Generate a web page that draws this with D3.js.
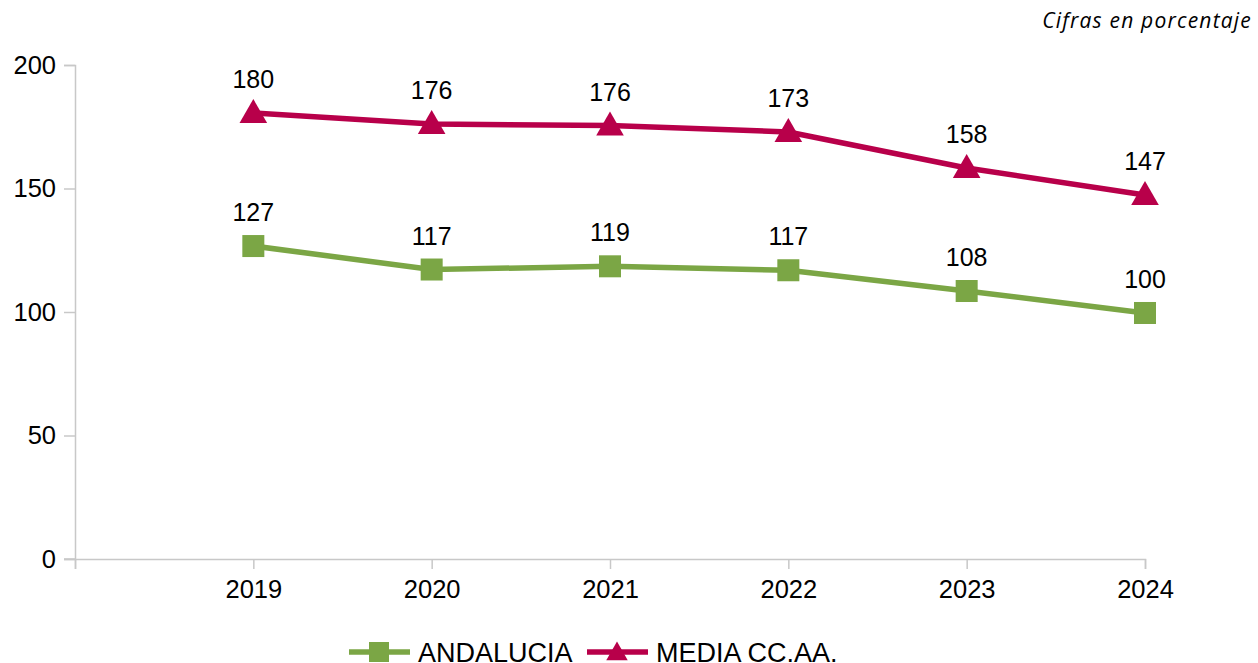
<!DOCTYPE html>
<html>
<head>
<meta charset="utf-8">
<script src="https://cdn.jsdelivr.net/npm/d3@7"></script>
<style>
  body { margin: 0; background: #fff; }
  text { font-family: "Liberation Sans", Arial, sans-serif; }
</style>
</head>
<body>
<div id="graph"></div>
<script>
// datos
const years = [2019, 2020, 2021, 2022, 2023, 2024];
const andalucia = [126.7, 117.2, 118.5, 116.9, 108.5, 99.6];
const andaluciaLabels = ["127", "117", "119", "117", "108", "100"];
const media = [180.6, 176.1, 175.5, 172.9, 158.3, 147.4];
const mediaLabels = ["180", "176", "176", "173", "158", "147"];
const yTicks = [0, 50, 100, 150, 200];

const W = 1258, H = 663;
const green = "#7ba645", red = "#b8004a";

const svg = d3.select("#graph").append("svg")
    .attr("width", W)
    .attr("height", H);

// eje x: hay un hueco de una categoría a la izquierda
const x = d3.scaleLinear()
    .domain([2018, 2024])
    .range([75, 1145]);

const y = d3.scaleLinear()
    .domain([0, 200])
    .range([559, 65]);

// eje Y
const yAxis = svg.append("g")
    .attr("transform", "translate(75,0)")
    .call(d3.axisLeft(y).tickValues(yTicks).tickSize(11).tickPadding(8));
yAxis.selectAll("text").style("font-size", "25.5px").attr("fill", "#000")
    .style("font-family", "'Liberation Sans', Arial, sans-serif");

// eje X
const xAxis = svg.append("g")
    .attr("transform", "translate(0,559)")
    .call(d3.axisBottom(x).tickValues([2018].concat(years))
        .tickFormat(d => d === 2018 ? "" : d).tickSize(10).tickPadding(11));
xAxis.selectAll("text").style("font-size", "25.5px").attr("fill", "#000")
    .style("font-family", "'Liberation Sans', Arial, sans-serif");

svg.selectAll(".domain").attr("stroke", "#c8c8c8").attr("stroke-width", 1.5);
svg.selectAll(".tick line").attr("stroke", "#c8c8c8").attr("stroke-width", 1.5);
// prolongar el eje x hacia la izquierda como en el original
svg.append("line")
    .attr("x1", 64).attr("x2", 75)
    .attr("y1", y(0)).attr("y2", y(0))
    .attr("stroke", "#c8c8c8").attr("stroke-width", 1.5);

const line = d3.line()
    .x((d, i) => x(years[i]))
    .y(d => y(d));

const triangle = d3.symbol().type(d3.symbolTriangle).size(330);

function drawSeries(values, labels, color, shape) {
    const g = svg.append("g");
    g.append("path")
        .datum(values)
        .attr("d", line)
        .attr("fill", "none")
        .attr("stroke", color)
        .attr("stroke-width", 5.5)
        .attr("stroke-linejoin", "round");

    if (shape === "square") {
        g.selectAll("rect")
            .data(values)
            .join("rect")
            .attr("x", (d, i) => x(years[i]) - 11)
            .attr("y", d => y(d) - 11)
            .attr("width", 22)
            .attr("height", 22)
            .attr("fill", color);
    } else {
        g.selectAll(".tri")
            .data(values)
            .join("path")
            .attr("class", "tri")
            .attr("d", triangle)
            .attr("transform", (d, i) => `translate(${x(years[i])},${y(d) + 2})`)
            .attr("fill", color);
    }

    g.selectAll("text")
        .data(values)
        .join("text")
        .attr("x", (d, i) => x(years[i]))
        .attr("y", d => y(d) - 25)
        .attr("text-anchor", "middle")
        .style("font-size", "25px")
        .attr("fill", "#000")
        .text((d, i) => labels[i]);
}

drawSeries(andalucia, andaluciaLabels, green, "square");
drawSeries(media, mediaLabels, red, "triangle");

// nota
svg.append("text")
    .attr("x", 1252)
    .attr("y", 28)
    .attr("text-anchor", "end")
    .style("font-family", "'Open Sans', 'Noto Sans', sans-serif")
    .style("font-style", "italic")
    .style("font-size", "21px")
    .style("letter-spacing", "1.2px")
    .attr("fill", "#000")
    .text("Cifras en porcentaje");

// leyenda
const legend = svg.append("g").attr("transform", "translate(0,652)");
const items = [
    { name: "ANDALUCIA", color: green, shape: "square", x: 349 },
    { name: "MEDIA CC.AA.", color: red, shape: "triangle", x: 587 }
];
items.forEach(it => {
    legend.append("line")
        .attr("x1", it.x).attr("x2", it.x + 61)
        .attr("y1", 0).attr("y2", 0)
        .attr("stroke", it.color).attr("stroke-width", 5.5);
    if (it.shape === "square") {
        legend.append("rect")
            .attr("x", it.x + 30 - 10).attr("y", -10)
            .attr("width", 20).attr("height", 20)
            .attr("fill", it.color);
    } else {
        legend.append("path")
            .attr("d", d3.symbol().type(d3.symbolTriangle).size(200)())
            .attr("transform", `translate(${it.x + 30},2)`)
            .attr("fill", it.color);
    }
    legend.append("text")
        .attr("x", it.x + 69)
        .attr("y", 10)
        .style("font-size", "27px")
        .attr("fill", "#000")
        .text(it.name);
});
</script>
</body>
</html>
